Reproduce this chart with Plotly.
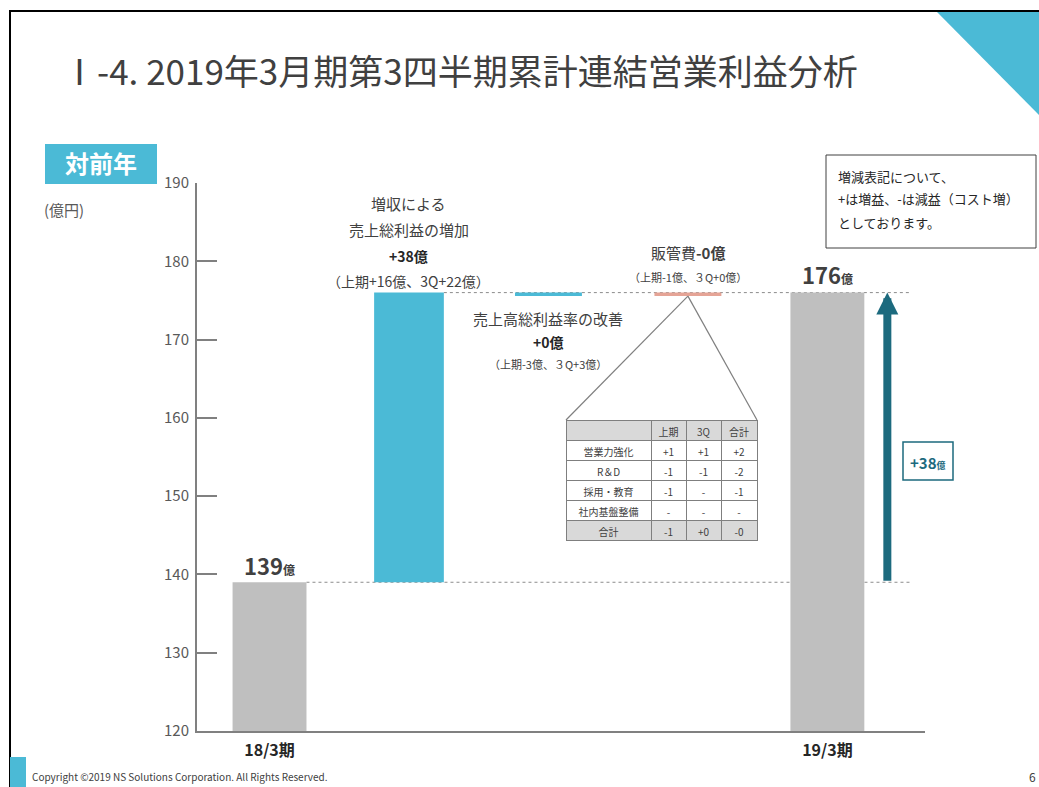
import plotly.graph_objects as go

# ---------------- data ----------------
categories = ["18/3期", "売上総利益の増加", "売上高総利益率の改善", "販管費", "19/3期"]
tick_labels = ["18/3期", "", "", "", "19/3期"]
start_value = 139          # 18/3期 営業利益 (億円)
end_value = 176            # 19/3期 営業利益 (億円)
gross_profit_increase = 37 # bar length of 増収による売上総利益の増加
margin_change = 0          # 売上高総利益率の改善
sga_change = 0             # 販管費

table_header = ["", "上期", "3Q", "合計"]
table_rows = ["営業力強化", "R＆D", "採用・教育", "社内基盤整備", "合計"]
table_h1 = ["+1", "-1", "-1", "-", "-1"]
table_3q = ["+1", "-1", "-", "-", "+0"]
table_total = ["+2", "-2", "-1", "-", "-0"]

y_ticks = [120, 130, 140, 150, 160, 170, 180, 190]

# ---------------- style ----------------
FONT = "Noto Sans CJK JP"
BLUE = "#4bbad6"
GRAY_BAR = "#bfbfbf"
PINK = "#e5a496"
TEAL = "#1c6a7e"
TXT = "#404040"
THIN = 0.45  # visual thickness for zero-change bars

W, H = 1039, 787
ML, MR, MT, MB = 197, 114, 183, 56
PW, PH = W - ML - MR, H - MT - MB
XR = [-0.52, 4.7]
YR = [120, 190]

def px(x):  # pixel -> paper
    return (x - ML) / PW

def py(y):
    return (H - MB - y) / PH

def dx(v):  # data -> paper
    return (v - XR[0]) / (XR[1] - XR[0])

def dy(v):
    return (v - YR[0]) / (YR[1] - YR[0])

after_gp = start_value + gross_profit_increase
bases = [0, start_value, after_gp + margin_change - THIN, after_gp + margin_change + sga_change - THIN, 0]
heights = [start_value, gross_profit_increase, THIN, THIN, end_value]
colors = [GRAY_BAR, BLUE, BLUE, PINK, GRAY_BAR]
widths = [0.53, 0.5, 0.48, 0.48, 0.53]
xs = list(range(len(categories)))

fig = go.Figure()
fig.add_trace(go.Bar(x=xs, y=heights, base=bases, width=widths,
                     marker=dict(color=colors, line=dict(width=0)),
                     hoverinfo="skip", showlegend=False))

# table
cell_fill = ["white"] * (len(table_rows) - 1) + ["#d9d9d9"]
fig.add_trace(go.Table(
    domain=dict(x=[px(566), px(757)], y=[py(545), py(420)]),
    columnwidth=[85, 35, 35, 36],
    header=dict(values=table_header, fill_color="#d9d9d9", height=20,
                line=dict(color="#7f7f7f", width=1),
                font=dict(family=FONT, size=10, color=TXT), align="center"),
    cells=dict(values=[table_rows, table_h1, table_3q, table_total],
               fill_color=[cell_fill] * 4, height=20,
               line=dict(color="#7f7f7f", width=1),
               font=dict(family=FONT, size=10, color=TXT), align="center"),
))

shapes = []
# dotted connector lines
shapes.append(dict(type="line", xref="x", yref="y", x0=0.265, x1=4.6, y0=start_value, y1=start_value,
                   line=dict(color="#8c8c8c", width=1, dash="dot"), layer="below"))
shapes.append(dict(type="line", xref="x", yref="y", x0=1.25, x1=4.6, y0=end_value, y1=end_value,
                   line=dict(color="#8c8c8c", width=1, dash="dot"), layer="below"))
# lines from SG&A bar to table
sx, sy = dx(3), dy(after_gp + sga_change - THIN)
for tx in (px(566), px(757)):
    shapes.append(dict(type="line", xref="paper", yref="paper", x0=sx, y0=sy, x1=tx, y1=py(420),
                       line=dict(color="#7f7f7f", width=1.2)))
# frame
shapes.append(dict(type="line", xref="paper", yref="paper", x0=px(10), x1=px(10), y0=py(10), y1=py(790),
                   line=dict(color="black", width=2)))
shapes.append(dict(type="line", xref="paper", yref="paper", x0=px(10), x1=px(1045), y0=py(11), y1=py(11),
                   line=dict(color="black", width=2)))
# top-right decoration
def path(pts):
    s = "M " + " L ".join(f"{px(a)},{py(b)}" for a, b in pts) + " Z"
    return s
shapes.append(dict(type="path", xref="paper", yref="paper", path=path([(970, 12), (1040, 12), (1040, 24)]),
                   fillcolor="#bfbfbf", line=dict(width=0)))
shapes.append(dict(type="path", xref="paper", yref="paper", path=path([(937, 12), (1040, 12), (1040, 116)]),
                   fillcolor=BLUE, line=dict(width=0)))
# 対前年 box
shapes.append(dict(type="rect", xref="paper", yref="paper", x0=px(45), x1=px(157), y0=py(184), y1=py(144),
                   fillcolor=BLUE, line=dict(width=0)))
# note box
shapes.append(dict(type="rect", xref="paper", yref="paper", x0=px(826), x1=px(1036), y0=py(248), y1=py(155),
                   fillcolor="white", line=dict(color="#404040", width=1)))
# +38 box
shapes.append(dict(type="rect", xref="paper", yref="paper", x0=px(903), x1=px(953), y0=py(480), y1=py(442),
                   fillcolor="white", line=dict(color=TEAL, width=1.5)))
# footer blue rect
shapes.append(dict(type="rect", xref="paper", yref="paper", x0=px(10), x1=px(26), y0=py(787), y1=py(757),
                   fillcolor=BLUE, line=dict(width=0)))

ann = []
def A(text, x, y, size=15, color=TXT, xref="paper", yref="paper", yshift=0, xanchor="center", **kw):
    ann.append(dict(text=text, x=x, y=y, xref=xref, yref=yref, yshift=yshift, showarrow=False,
                    xanchor=xanchor, yanchor="middle", font=dict(family=FONT, size=size, color=color), **kw))

A("Ⅰ-4. 2019年3月期第3四半期累計連結営業利益分析", px(60), py(70), size=35, color=TXT, xanchor="left")
A("<b>対前年</b>", px(101), py(163), size=24, color="white")
A("(億円)", px(42), py(209), size=15, color="#595959", xanchor="left")

# bar 1 labels
A("増収による", 1, end_value, xref="x", yref="y", yshift=89)
A("売上総利益の増加", 1, end_value, xref="x", yref="y", yshift=63)
A("<b>+38億</b>", 1, end_value, xref="x", yref="y", yshift=37, size=14, color="#262626")
A("（上期+16億、3Q+22億）", 1, end_value, xref="x", yref="y", yshift=12, size=14)
# bar 2 labels
A("売上高総利益率の改善", 2, end_value, xref="x", yref="y", yshift=-26)
A("<b>+0億</b>", 2, end_value, xref="x", yref="y", yshift=-49, size=14, color="#262626")
A("（上期-3億、３Q+3億）", 2, end_value, xref="x", yref="y", yshift=-71, size=11)
# bar 3 labels
A("販管費<b>-0億</b>", 3, end_value, xref="x", yref="y", yshift=40, size=15)
A("（上期-1億、３Q+0億）", 3, end_value, xref="x", yref="y", yshift=16, size=11)
# totals
A("<b>139<span style='font-size:12px'>億</span></b>", 0, start_value, xref="x", yref="y", yshift=17, size=22)
A("<b>176<span style='font-size:12px'>億</span></b>", 4, end_value, xref="x", yref="y", yshift=19, size=22)
# note box text
A("増減表記について、", px(836), py(176), size=13, color="#262626", xanchor="left")
A("+は増益、-は減益（コスト増）", px(836), py(199), size=13, color="#262626", xanchor="left")
A("としております。", px(836), py(222), size=13, color="#262626", xanchor="left")
# +38 box text
A("<b>+38<span style='font-size:9px'>億</span></b>", px(928), py(462), size=15, color=TEAL)
# footer
A("Copyright ©2019 NS Solutions Corporation. All Rights Reserved.", px(30), py(776), size=10,
  color="#404040", xanchor="left")
A("6", px(1027), py(776), size=12, color="#404040", xanchor="left")

# arrow
ann.append(dict(x=4.43, y=end_value, ax=4.43, ay=start_value, xref="x", yref="y", axref="x", ayref="y",
                text="", showarrow=True, arrowhead=2, arrowsize=0.55, arrowwidth=8, arrowcolor=TEAL,
                standoff=0, startstandoff=0))

fig.update_layout(
    width=W, height=H, autosize=False,
    margin=dict(l=ML, r=MR, t=MT, b=MB, pad=0),
    paper_bgcolor="white", plot_bgcolor="white",
    barmode="overlay", showlegend=False,
    font=dict(family=FONT, color=TXT),
    shapes=shapes, annotations=ann,
    xaxis=dict(range=XR, tickvals=xs, ticktext=[f"<b>{t}</b>" for t in tick_labels],
               tickfont=dict(family=FONT, size=16, color="#262626"), ticks="",
               showline=True, linecolor="#808080", linewidth=2, showgrid=False, zeroline=False,
               fixedrange=True, ticklabelstandoff=4),
    yaxis=dict(range=YR, tickvals=y_ticks, ticks="inside", ticklen=20, tickwidth=1.5, tickcolor="#808080",
               tickfont=dict(family=FONT, size=15, color="#595959"),
               showline=True, linecolor="#808080", linewidth=2, showgrid=False, zeroline=False,
               fixedrange=True, ticklabelstandoff=3),
)

fig.write_html("out.html", config={"displayModeBar": False})
